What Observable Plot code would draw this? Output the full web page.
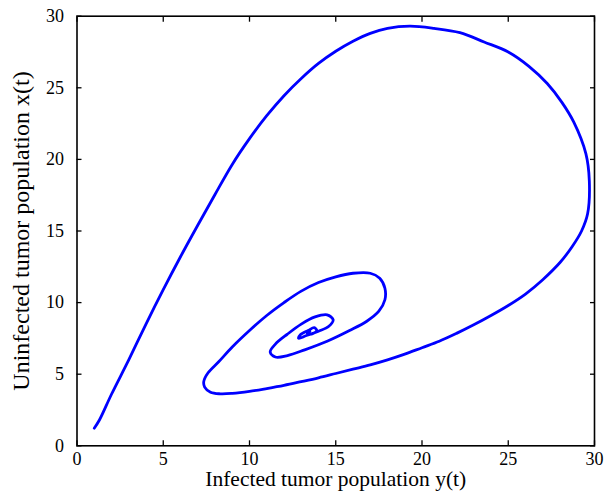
<!DOCTYPE html>
<html>
<head>
<meta charset="utf-8">
<script src="https://cdn.jsdelivr.net/npm/d3@7"></script>
<script src="https://cdn.jsdelivr.net/npm/@observablehq/plot@0.6"></script>
<style>
  html, body { margin: 0; padding: 0; background: #fff; }
</style>
</head>
<body>
<div id="chart"></div>
<script>
// Trajectory: infected y(t) (horizontal) vs uninfected x(t) (vertical)
const infectedY = [1.0, 1.3, 2.0, 3.0, 4.0, 5.0, 6.0, 7.0, 8.0, 9.0, 10.0, 11.0, 12.0, 13.0, 14.0, 15.0, 16.0, 17.0, 18.0, 19.3, 20.7, 22.2, 23.6, 25.0, 26.2, 27.26, 28.1, 28.8, 29.5, 29.7, 29.6, 29.25, 28.7, 28.0, 27.0, 26.0, 25.0, 24.0, 23.0, 22.0, 21.0, 20.0, 19.0, 18.0, 17.0, 16.0, 15.0, 14.0, 13.0, 12.0, 11.0, 10.0, 9.0, 8.3, 7.74, 7.4, 7.35, 7.6, 8.2, 9.0, 10.0, 11.0, 12.0, 13.0, 14.0, 15.0, 16.0, 17.0, 17.55, 17.85, 17.85, 17.5, 16.8, 15.8, 14.5, 13.2, 12.2, 11.5, 11.2, 11.5, 12.2, 13.0, 13.8, 14.5, 14.85, 14.6, 14.0, 13.3, 12.85, 12.95, 13.4, 13.75, 13.9, 13.6, 13.35, 13.5];
const uninfectedX = [1.23, 1.8, 3.6, 6.0, 8.5, 10.9, 13.2, 15.4, 17.55, 19.65, 21.45, 23.05, 24.45, 25.65, 26.7, 27.55, 28.25, 28.8, 29.15, 29.3, 29.15, 28.85, 28.2, 27.5, 26.5, 25.3, 24.0, 22.6, 20.4, 18.5, 16.2, 15.0, 13.9, 12.8, 11.6, 10.6, 9.8, 9.1, 8.45, 7.85, 7.3, 6.85, 6.4, 6.0, 5.65, 5.35, 5.05, 4.75, 4.48, 4.22, 4.0, 3.8, 3.66, 3.63, 3.74, 4.1, 4.5, 5.1, 5.85, 6.9, 8.05, 9.1, 10.0, 10.8, 11.4, 11.8, 12.05, 12.05, 11.7, 11.0, 10.2, 9.4, 8.7, 8.05, 7.3, 6.7, 6.3, 6.2, 6.55, 7.1, 7.8, 8.5, 9.0, 9.15, 8.8, 8.35, 8.0, 7.7, 7.5, 7.75, 8.05, 8.25, 8.05, 7.8, 7.85, 8.0];
const xTicks = [0, 5, 10, 15, 20, 25, 30];
const yTicks = [0, 5, 10, 15, 20, 25, 30];
const xLabel = "Infected tumor population y(t)";
const yLabel = "Uninfected tumor population x(t)";

const data = infectedY.map((v, i) => ({y_t: v, x_t: uninfectedX[i]}));
const blank = () => "";

const chart = Plot.plot({
  width: 613,
  height: 499,
  marginLeft: 76.5,
  marginRight: 19,
  marginTop: 15.7,
  marginBottom: 53.7,
  style: {fontFamily: "'Liberation Serif', 'Times New Roman', serif", background: "#fff", color: "#000"},
  x: {domain: [0, 30]},
  y: {domain: [0, 30]},
  marks: [
    Plot.line(data, {x: "y_t", y: "x_t", curve: "catmull-rom", stroke: "#0000ff", strokeWidth: 2.8, strokeLinejoin: "round", strokeLinecap: "round"}),
    // inward ticks on all four sides
    Plot.axisX(xTicks, {anchor: "bottom", tickSize: -5, tickFormat: blank, label: null, strokeWidth: 1.3}),
    Plot.axisX(xTicks, {anchor: "top", tickSize: -5, tickFormat: blank, label: null, strokeWidth: 1.3}),
    Plot.axisY(yTicks, {anchor: "left", tickSize: -5, tickFormat: blank, label: null, strokeWidth: 1.3}),
    Plot.axisY(yTicks, {anchor: "right", tickSize: -5, tickFormat: blank, label: null, strokeWidth: 1.3}),
    // tick labels
    Plot.axisX(xTicks, {anchor: "bottom", tickSize: 0, tickPadding: 6, fontSize: 18, label: null}),
    Plot.axisY(yTicks, {anchor: "left", tickSize: 0, tickPadding: 13, fontSize: 18, label: null}),
    // axis titles
    Plot.text([xLabel], {frameAnchor: "bottom", dy: 40, fontSize: 21.5, textAnchor: "middle", text: d => d}),
    Plot.text([yLabel], {frameAnchor: "left", dx: -55.5, dy: 0, rotate: -90, fontSize: 24, textAnchor: "middle", text: d => d}),
    Plot.frame({stroke: "#000", strokeWidth: 1.6})
  ]
});
document.getElementById("chart").appendChild(chart);
</script>
</body>
</html>
